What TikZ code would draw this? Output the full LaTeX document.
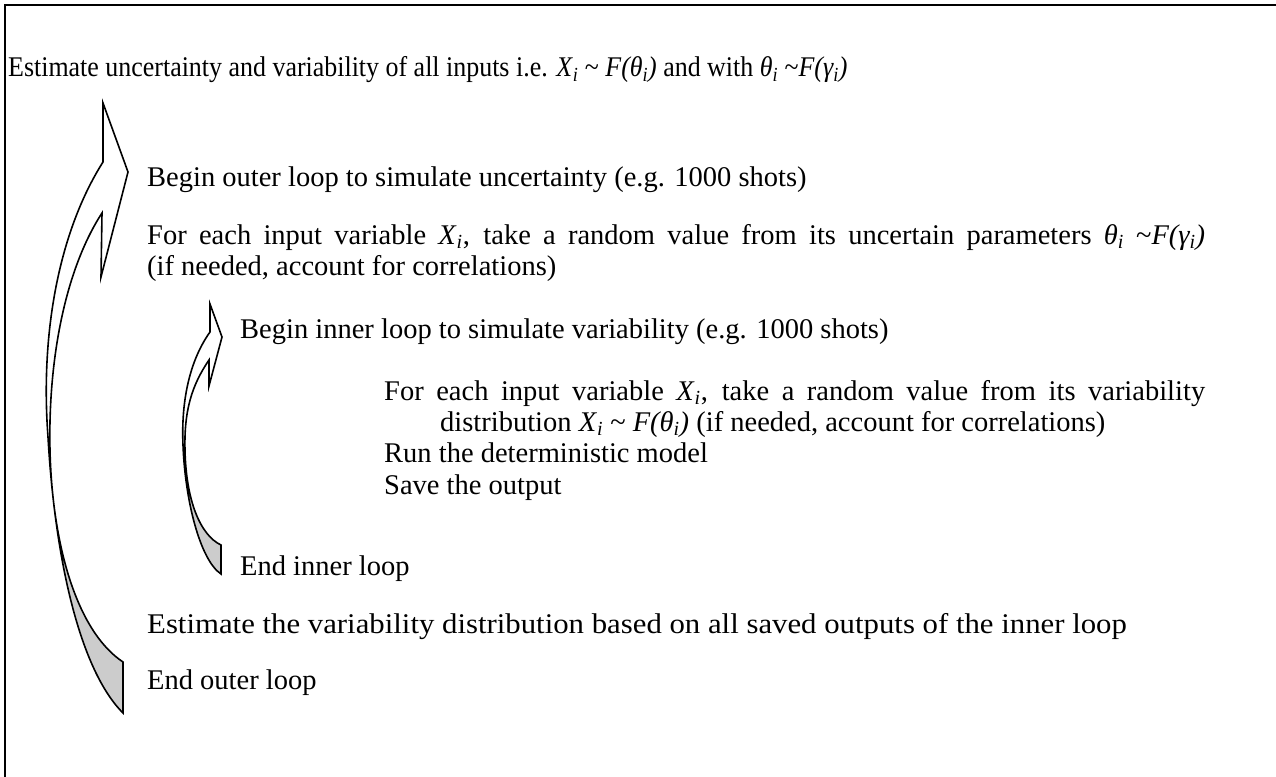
\documentclass[tikz,border=0pt]{standalone}
\usepackage{fontspec}
\usepackage{graphicx}
\setmainfont{Liberation Serif}
\newcommand\myX{\textit{X}\textsubscript{\textit{i}}}
\newcommand\myTh{\textit{θ}\textsubscript{\textit{i}}}
\newcommand\myFth{\textit{F(θ\textsubscript{i})}}
\newcommand\myFga{\textit{F(γ\textsubscript{i})}}
\newcommand\tl{\textasciitilde}
\begin{document}
\begin{tikzpicture}[x=1pt,y=-1pt,line join=miter,
  txt/.style={anchor=base west,inner sep=0pt,font=\fontsize{28.5}{33}\selectfont},
  arrline/.style={line width=1.6pt},
  backface/.style={fill=gray!40}]
\useasboundingbox (0,0) rectangle (1276,776);
\draw[line width=2.2pt] (5,5) rectangle (1300,800);
% outer curved arrow
\fill[white] (103,162) .. controls (60,230) and (40,330) .. (48,437) .. controls (55,560) and (80,670) .. (123,713) -- (123,662) .. controls (75,630) and (52,540) .. (50,450) .. controls (48,360) and (65,270) .. (102,213) -- (101,277) -- (128,172) -- (103,103) -- cycle;
\fill[backface] (48,437) .. controls (55,560) and (80,670) .. (123,713) -- (123,662) .. controls (75,630) and (52,540) .. (50,450) -- cycle;
\draw[arrline] (103,162) .. controls (60,230) and (40,330) .. (48,437) .. controls (55,560) and (80,670) .. (123,713) -- (123,662) .. controls (75,630) and (52,540) .. (50,450) .. controls (48,360) and (65,270) .. (102,213) -- (101,277) -- (128,172) -- (103,103) -- cycle;
% inner curved arrow
\fill[white] (210,332) .. controls (190,360) and (181,400) .. (183,445) .. controls (185,500) and (200,560) .. (221,574) -- (221,545) .. controls (200,535) and (186,500) .. (185,450) .. controls (184,410) and (192,385) .. (209,360) -- (209,386) -- (222,337) -- (210,304) -- cycle;
\fill[backface] (183,445) .. controls (185,500) and (200,560) .. (221,574) -- (221,545) .. controls (200,535) and (186,500) .. (185,450) -- cycle;
\draw[arrline] (210,332) .. controls (190,360) and (181,400) .. (183,445) .. controls (185,500) and (200,560) .. (221,574) -- (221,545) .. controls (200,535) and (186,500) .. (185,450) .. controls (184,410) and (192,385) .. (209,360) -- (209,386) -- (222,337) -- (210,304) -- cycle;
% texts
\node[txt] (t1) at (8,77) {\scalebox{0.91}[1]{Estimate uncertainty and variability of all inputs i.e. \myX\ \tl\ \myFth\ and with \myTh\ \tl\myFga}};
\node[txt] (t2) at (147,186) {Begin outer loop to simulate uncertainty (e.g. 1000 shots)};
\node[txt] (t3) at (147,244) {\makebox[1058pt][s]{For each input variable \myX, take a random value from its uncertain parameters \myTh\ \tl\myFga}};
\node[txt] (t4) at (147,275) {(if needed, account for correlations)};
\node[txt] (t5) at (240,338) {Begin inner loop to simulate variability (e.g. 1000 shots)};
\node[txt] (t6) at (384,400) {\makebox[821pt][s]{For each input variable \myX, take a random value from its variability}};
\node[txt] (t7) at (440,431) {distribution \myX\ \tl\ \myFth\ (if needed, account for correlations)};
\node[txt] (t8) at (384,462) {Run the deterministic model};
\node[txt] (t9) at (384,494) {Save the output};
\node[txt] (t10) at (240,575) {End inner loop};
\node[txt] (t11) at (147,633) {\scalebox{1.08}[1]{Estimate the variability distribution based on all saved outputs of the inner loop}};
\node[txt] (t12) at (147,689) {End outer loop};
\end{tikzpicture}
\end{document}
